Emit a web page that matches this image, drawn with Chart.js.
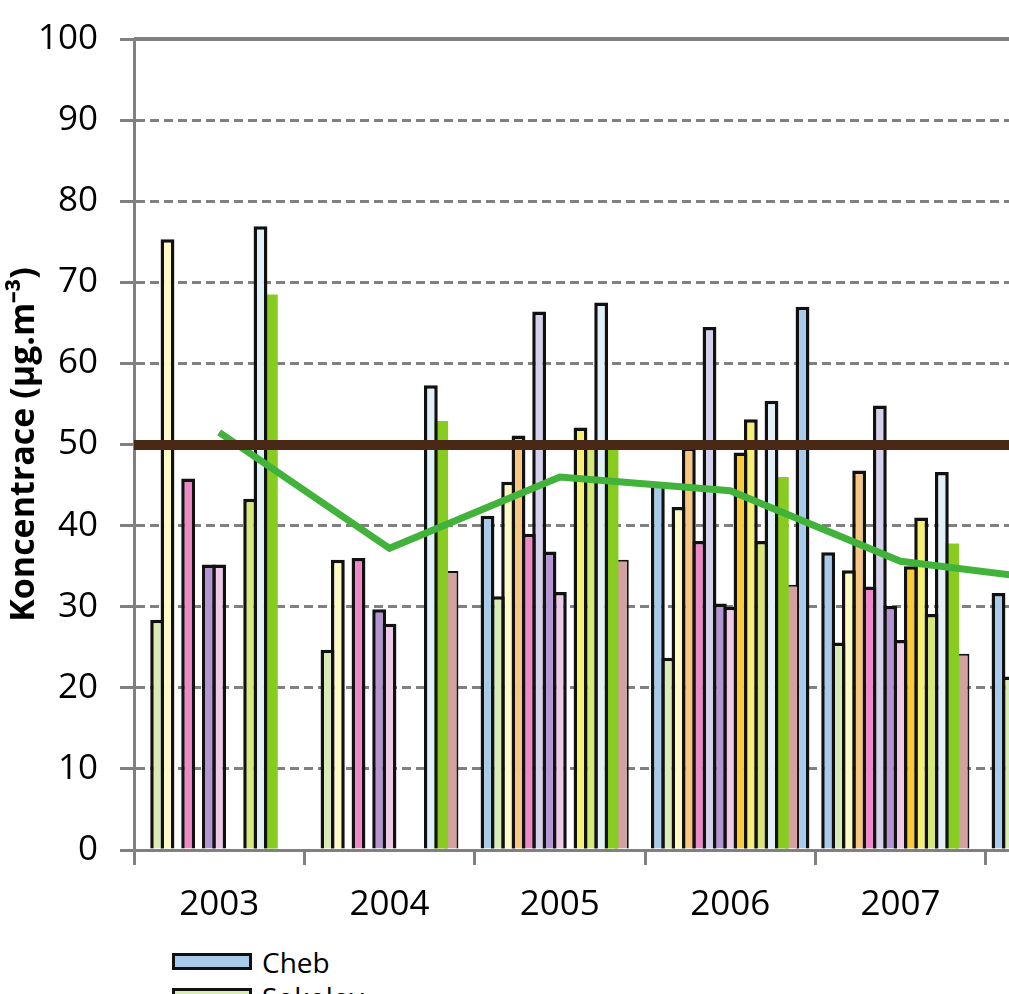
<!DOCTYPE html>
<html>
<head>
<meta charset="utf-8">
<script src="https://cdn.jsdelivr.net/npm/chart.js@4.4.0/dist/chart.umd.min.js"></script>
<style>
  html, body { margin: 0; padding: 0; background: #fff; overflow: hidden; }
  #wrap { position: relative; width: 1009px; height: 994px; overflow: hidden; }
  #chart { display: block; }
  #legend { position: absolute; left: 172px; top: 944px; font-family: 'Open Sans', sans-serif; font-size: 28px; color: #000; }
  .item { display: flex; align-items: center; height: 35px; white-space: nowrap; }
  .box { box-sizing: border-box; width: 80px; height: 17px; border: 3px solid #111; margin-right: 10px; }
</style>
</head>
<body>
<div id="wrap">
  <canvas id="chart" width="1156" height="940"></canvas>
  <div id="legend"></div>
</div>
<script>
const years = ['2003', '2004', '2005', '2006', '2007', '2008'];

// stations, in the order Excel draws the bars
const stationNames = ['Cheb', 'Sokolov', 'Karlovy Vary', 'Přebuz', 'Ostrov', 'Chodov', 'Nejdek', 'Aš',
    'Mariánské Lázně', 'Františkovy Lázně', 'Horní Slavkov', 'Kraslice', 'Jáchymov', 'Loket', 'Habartov'];
const stationColors = ['#a9cbeb', '#d9ecb5', '#fefac6', '#f7c680', '#ee88c6', '#d5d0ec', '#b495d3', '#eecae8',
    '#f9ca3a', '#f8f074', '#d5e878', '#e2f0f8', '#88cc22', '#d4a0a0', '#a9cbeb'];

const cheb      = [null, null, 41.2, 45.3, 36.7, 31.7];
const sokolov   = [28.4, 24.7, 31.3, 23.7, 25.6, 21.4];
const karlVary  = [75.3, 35.8, 45.4, 42.3, 34.5, null];
const prebuz    = [null, null, 51.1, 49.6, 46.8, null];
const ostrov    = [45.8, 36.0, 39.0, 38.1, 32.5, null];
const chodov    = [null, null, 66.4, 64.5, 54.8, null];
const nejdek    = [35.2, 29.7, 36.8, 30.4, 30.1, null];
const as        = [35.2, 27.9, 31.8, 30.0, 25.9, null];
const marLazne  = [null, null, null, 49.0, 35.0, null];
const frLazne   = [null, null, 52.1, 53.1, 41.0, null];
const hSlavkov  = [43.3, null, 49.8, 38.1, 29.1, null];
const kraslice  = [76.9, 57.3, 67.5, 55.4, 46.6, null];
const jachymov  = [68.5, 52.9, 49.6, 46.0, 37.8, null];
const loket     = [null, 34.4, 35.8, 32.7, 24.2, null];
const habartov  = [null, null, null, 67.0, null, null];

const averageValues = [51.5, 37.2, 46.0, 44.3, 35.6, 33.0];
const limitValue = 50;     // imisní limit
const yTicks = { min: 0, max: 100, step: 10 };

const stationValues = [cheb, sokolov, karlVary, prebuz, ostrov, chodov, nejdek, as,
    marLazne, frLazne, hSlavkov, kraslice, jachymov, loket, habartov];

const FONT = "'Open Sans', sans-serif";

const barSets = stationValues.map((vals, i) => {
    let bw = 3.5;
    if (i === 12) bw = 0;      // green bars have no outline
    if (i === 13) bw = 2;
    return {
        type: 'bar',
        label: stationNames[i],
        data: vals,
        backgroundColor: stationColors[i],
        borderColor: '#111',
        borderWidth: bw,
        order: 2
    };
});

// solid line on top of the plot (the 100 gridline is solid in the original)
const topLine = {
    id: 'topLine',
    beforeDatasetsDraw(chart) {
        const { ctx, chartArea } = chart;
        const y = chart.scales.y.getPixelForValue(yTicks.max);
        ctx.save();
        ctx.strokeStyle = '#808080';
        ctx.lineWidth = 4;
        ctx.beginPath();
        ctx.moveTo(chartArea.left, y);
        ctx.lineTo(chartArea.right, y);
        ctx.stroke();
        ctx.restore();
    }
};

const chart = new Chart(document.getElementById('chart'), {
    type: 'bar',
    data: {
        labels: years,
        datasets: [
            ...barSets,
            {
                type: 'line',
                label: 'Průměr',
                data: averageValues,
                borderColor: '#41b33a',
                borderWidth: 7,
                pointRadius: 0,
                tension: 0,
                order: 0
            }
        ]
    },
    options: {
        responsive: false,
        animation: false,
        events: [],
        layout: { padding: { top: 39, right: 0, bottom: 0, left: 0 } },
        datasets: {
            // bars overlap by one outline so neighbours share a single black edge
            bar: { categoryPercentage: 0.91, barPercentage: 1.34 }
        },
        scales: {
            x: {
                grid: { drawOnChartArea: false, drawTicks: true, tickLength: 15, color: '#808080', lineWidth: 3 },
                border: { color: '#808080', width: 3 },
                ticks: { font: { family: FONT, size: 35 }, color: '#000', padding: 19, maxRotation: 0 },
                afterFit(scale) { scale.height = 90; }
            },
            y: {
                min: yTicks.min,
                max: yTicks.max,
                ticks: { stepSize: yTicks.step, font: { family: FONT, size: 35 }, color: '#000', padding: 22 },
                grid: { color: '#808080', lineWidth: 3, tickLength: 14 },
                border: { color: '#808080', width: 3, dash: [9, 5] },
                title: {
                    display: true,
                    text: 'Koncentrace (µg.m⁻³)',
                    font: { family: FONT, size: 34, weight: 'bold' },
                    color: '#000',
                    padding: { top: 4, bottom: 0 }
                },
                afterFit(scale) {
                    scale.width = 134;
                    scale.paddingTop = 0;
                    scale.paddingBottom = 0;
                }
            },
            // limit line: a single gridline drawn above the bars
            yLimit: {
                position: 'right',
                min: yTicks.min,
                max: yTicks.max,
                ticks: { display: false },
                afterBuildTicks(scale) { scale.ticks = [{ value: limitValue }]; },
                grid: { z: 1, drawTicks: false, color: '#4a2816', lineWidth: 10 },
                border: { display: false },
                afterFit(scale) {
                    scale.width = 0;
                    scale.paddingTop = 0;
                    scale.paddingBottom = 0;
                }
            }
        },
        plugins: {
            legend: { display: false },
            tooltip: { enabled: false }
        }
    },
    plugins: [topLine]
});

// legend as a single column under the chart, built from the chart's own labels
const legendEl = document.getElementById('legend');
const legendItems = Chart.defaults.plugins.legend.labels.generateLabels(chart)
    .sort((a, b) => a.datasetIndex - b.datasetIndex);
legendItems.push({ text: 'Imisní limit', fillStyle: '#4a2816' });
legendItems.forEach(item => {
    const row = document.createElement('div');
    row.className = 'item';
    const box = document.createElement('span');
    box.className = 'box';
    box.style.background = item.fillStyle;
    const txt = document.createElement('span');
    txt.textContent = item.text;
    row.appendChild(box);
    row.appendChild(txt);
    legendEl.appendChild(row);
});
</script>
</body>
</html>
